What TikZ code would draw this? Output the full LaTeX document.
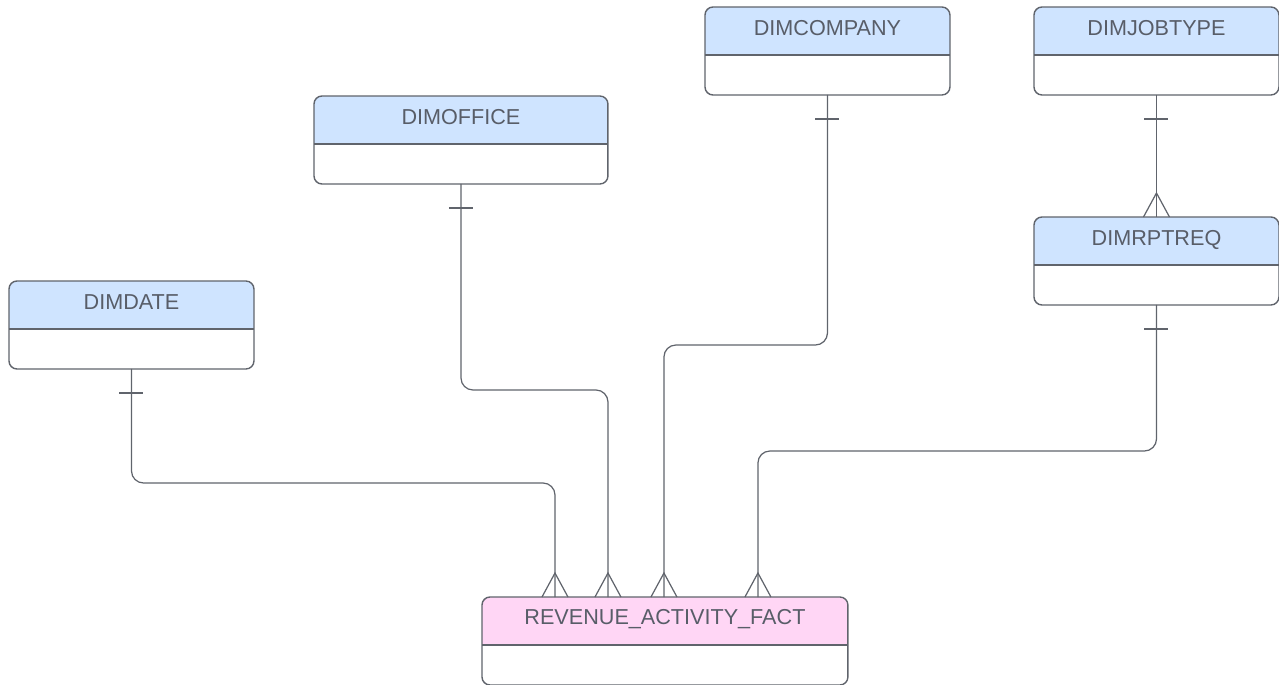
\documentclass[tikz,border=0pt]{standalone}
\usepackage{fontspec}
\setmainfont{Liberation Sans}
\usetikzlibrary{calc}

\definecolor{linegray}{RGB}{96,100,108}
\definecolor{textgray}{RGB}{88,93,104}
\definecolor{dimblue}{RGB}{207,228,255}
\definecolor{factpink}{RGB}{255,214,245}

\tikzset{
  entity/.style 2 args={draw=linegray, line width=0.8pt, fill=white,
    rounded corners=0.16cm, outer sep=0pt, inner sep=0pt, anchor=north west,
    minimum width=#2, minimum height=1.76cm,
    path picture={
      \fill[#1, sharp corners] (path picture bounding box.north west)
        rectangle ([yshift=-0.96cm]path picture bounding box.north east);
      \draw[linegray, line width=0.8pt, sharp corners]
        ([yshift=-0.96cm]path picture bounding box.north west)
        -- ([yshift=-0.96cm]path picture bounding box.north east);}},
  title/.style={text=textgray, font=\fontsize{12.3}{14}\selectfont,
    inner sep=0pt, text height=0.716em, text depth=0pt},
  rel/.style={draw=linegray, line width=0.7pt, rounded corners=0.24cm},
  foot/.style={draw=linegray, line width=0.7pt, sharp corners},
}

\begin{document}
\begin{tikzpicture}[x=0.02cm, y=-0.02cm]
      \useasboundingbox (0, 0) rectangle (1279, 684);

      % tables
      \node[entity={dimblue}{4.9cm}] (date) at (9, 281) {};
      \node[entity={dimblue}{5.88cm}] (office) at (314, 96) {};
      \node[entity={dimblue}{4.9cm}] (company) at (705, 7) {};
      \node[entity={dimblue}{4.9cm}] (jobtype) at (1034, 7) {};
      \node[entity={dimblue}{4.9cm}] (rptreq) at (1034, 217) {};
      \node[entity={factpink}{7.32cm}] (fact) at (482, 597) {};

      \node[title] (date-t) at ([yshift=-0.44cm]date.north) {DIMDATE};
      \node[title] (office-t) at ([yshift=-0.44cm]office.north) {DIMOFFICE};
      \node[title] (company-t) at ([yshift=-0.44cm]company.north) {DIMCOMPANY};
      \node[title] (jobtype-t) at ([yshift=-0.44cm]jobtype.north) {DIMJOBTYPE};
      \node[title] (rptreq-t) at ([yshift=-0.44cm]rptreq.north) {DIMRPTREQ};
      \node[title] (fact-t) at ([yshift=-0.42cm]fact.north) {REVENUE\_ACTIVITY\_FACT};

      % entry points on the fact table
      \coordinate (f1) at ([xshift=-2.2cm]fact.north);
      \coordinate (f2) at ([xshift=-1.14cm]fact.north);
      \coordinate (f3) at ([xshift=-0.02cm]fact.north);
      \coordinate (f4) at ([xshift=1.86cm]fact.north);

      % relations
      \draw[rel] (date.south) -- ++(0, 114) -| (f1);
      \draw[rel] (office.south) -- ++(0, 206) -| (f2);
      \draw[rel] (company.south) -- ++(0, 250) -| (f3);
      \draw[rel] (rptreq.south) -- ++(0, 146) -| (f4);
      \draw[rel] (jobtype.south) -- (rptreq.north);

      % one side
      \foreach \e in {date, office, company, jobtype, rptreq}
        \draw[foot] ([shift={(-12, 24)}]\e.south) -- ([shift={(12, 24)}]\e.south);

      % many side
      \foreach \f in {f1, f2, f3, f4, rptreq.north}
        \draw[foot] ([shift={(-13, 0)}]\f) -- ([shift={(0, -24)}]\f)
          -- ([shift={(13, 0)}]\f);
\end{tikzpicture}
\end{document}
